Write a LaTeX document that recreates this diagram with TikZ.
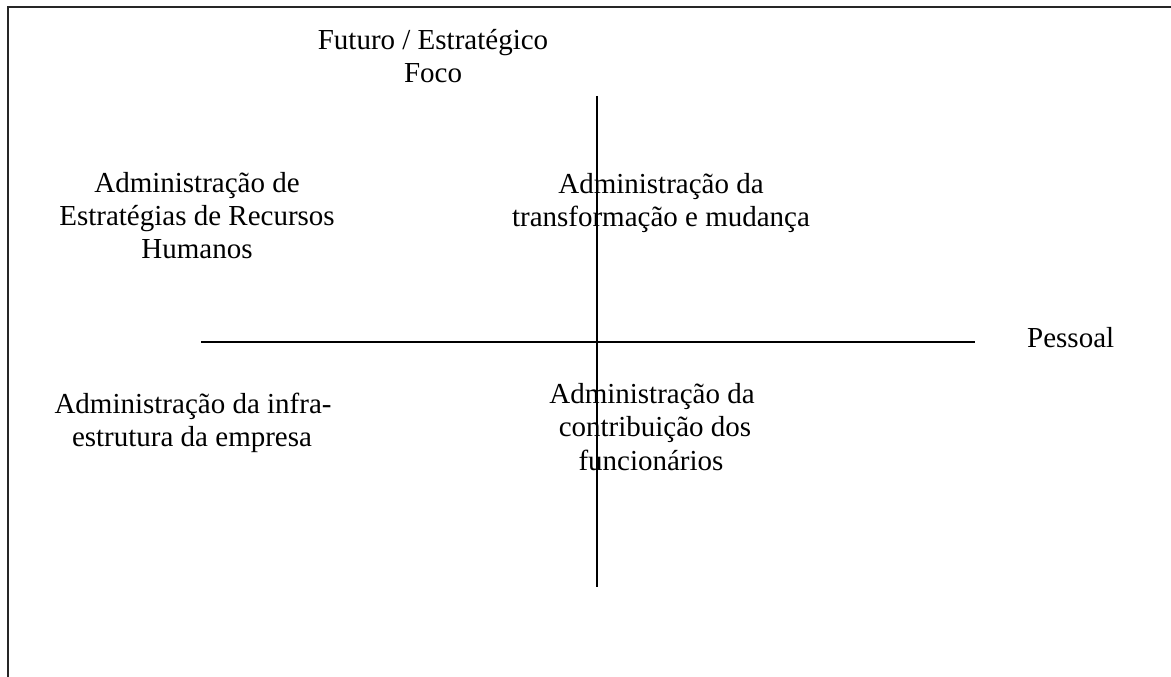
\documentclass[tikz,border=0pt]{standalone}
\usepackage{fontspec}
\setmainfont{Liberation Serif}
\begin{document}
\begin{tikzpicture}[x=1pt,y=-1pt,
  lbl/.style={anchor=base,inner sep=0pt,font=\fontsize{29}{33}\selectfont},
  axis/.style={line width=2pt,black},
  frameline/.style={line width=2pt,black!85}]
\useasboundingbox (0,0) rectangle (1171,677);
% frame (top and left edges)
\coordinate (fTL) at (8,7);
\coordinate (fTR) at (1171,7);
\coordinate (fBL) at (8,677);
\draw[frameline] (fTR) -- (fTL) -- (fBL);
% axes
\coordinate (hL) at (201,342);
\coordinate (hR) at (975,342);
\coordinate (vT) at (597,96);
\coordinate (vB) at (597,587);
\draw[axis] (hL) -- (hR);
\draw[axis,line width=1.6pt] (vT) -- (vB);
% top label
\node[lbl] (t1) at (433,50) {Futuro / Estratégico};
\node[lbl] (t2) at (433,83) {Foco};
% upper left
\node[lbl] (ul1) at (197,192) {Administração de};
\node[lbl] (ul2) at (197,225) {Estratégias de Recursos};
\node[lbl] (ul3) at (197,258) {Humanos};
% upper right
\node[lbl] (ur1) at (661,193) {Administração da};
\node[lbl] (ur2) at (661,226) {transformação e mudança};
% lower left
\node[lbl] (ll1) at (193,413) {Administração da infra-};
\node[lbl] (ll2) at (192,446) {estrutura da empresa};
% lower right
\node[lbl] (lr1) at (652,403) {Administração da};
\node[lbl] (lr2) at (655,436) {contribuição dos};
\node[lbl] (lr3) at (651,470) {funcionários};
% right label
\node[lbl,anchor=base west] (p) at (1027,347) {Pessoal};
\end{tikzpicture}
\end{document}
